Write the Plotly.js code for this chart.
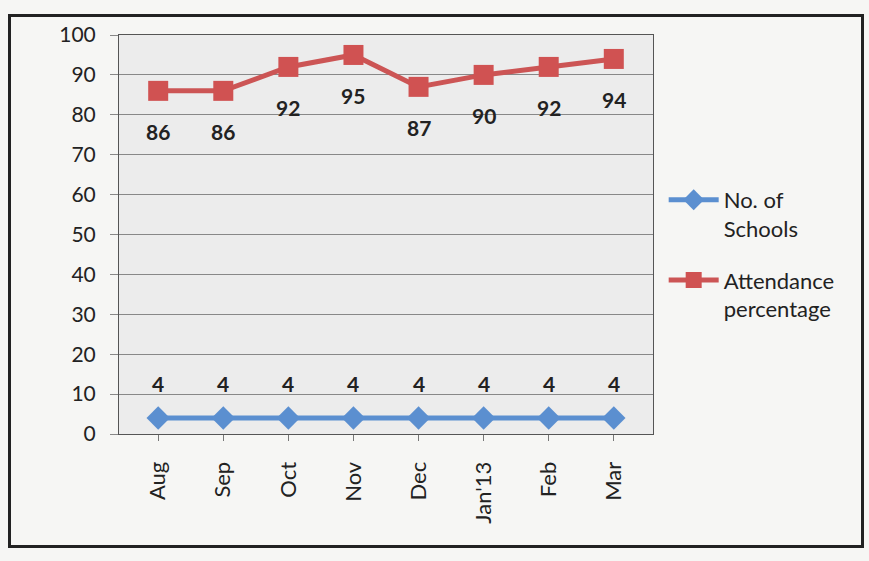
<!DOCTYPE html>
<html>
<head>
<meta charset="utf-8">
<script src="https://cdn.plot.ly/plotly-3.0.1.min.js"></script>
<style>
html,body{margin:0;padding:0;background:#f6f6f4;}
#wrap{position:relative;width:869px;height:561px;}
#chart{width:869px;height:561px;}
#frame{position:absolute;left:8px;top:14px;width:850px;height:528px;border:3px solid #222;pointer-events:none;}
</style>
</head>
<body>
<div id="wrap"><div id="chart"></div><div id="frame"></div></div>
<script>
const months = ["Aug","Sep","Oct","Nov","Dec","Jan'13","Feb","Mar"];
const schools = [4,4,4,4,4,4,4,4];
const attendance = [86,86,92,95,87,90,92,94];
const yTicks = [0,10,20,30,40,50,60,70,80,90,100];
const seriesNames = ["No. of<br>Schools","Attendance<br>percentage"];

const font = "Lato, 'Open Sans', sans-serif";

const traces = [
  {x: months, y: schools, name: seriesNames[0], legendgroup: "a", type: "scatter", mode: "lines+markers",
   line: {color: "#5b8fd0", width: 5}, marker: {symbol: "diamond", size: 18, color: "#5b8fd0"}},
  {x: months, y: attendance, name: seriesNames[1], legendgroup: "b", type: "scatter", mode: "lines+markers",
   line: {color: "#cc5555", width: 5}, marker: {symbol: "square", size: 20, color: "#d05252"}}
];

const annotations = [];
months.forEach((m, i) => {
  annotations.push({x: m, y: schools[i], text: String(schools[i]), showarrow: false, yshift: 35,
    font: {family: font, size: 21, color: "#222", weight: "bold"}});
  annotations.push({x: m, y: attendance[i], text: String(attendance[i]), showarrow: false, yshift: -41,
    font: {family: font, size: 21, color: "#222", weight: "bold"}});
});

const layout = {
  width: 869, height: 561,
  margin: {l: 119, r: 216, t: 35, b: 127},
  paper_bgcolor: "rgba(0,0,0,0)",
  plot_bgcolor: "#ececec",
  showlegend: true,
  legend: {x: 1.02, y: 0.45, xanchor: "left", yanchor: "middle", itemwidth: 50, valign: "top",
    traceorder: "grouped", tracegroupgap: 20,
    font: {family: font, size: 22, color: "#222"}, bgcolor: "rgba(0,0,0,0)"},
  xaxis: {type: "category", tickangle: -90, tickfont: {family: font, size: 22, color: "#222"},
    showgrid: false, showline: true, linecolor: "#555", linewidth: 1, ticks: "outside", ticklen: 6,
    tickcolor: "#777", mirror: true, ticklabelstandoff: 12},
  yaxis: {range: [0, 100], tickvals: yTicks, tickfont: {family: font, size: 21, color: "#222"},
    showgrid: true, gridcolor: "#888", gridwidth: 1, showline: true, linecolor: "#555", mirror: true,
    ticks: "outside", ticklen: 8, tickcolor: "#888", zeroline: false, ticklabelstandoff: 10},
  annotations: annotations
};

Plotly.newPlot("chart", traces, layout, {displayModeBar: false, staticPlot: true});
</script>
</body>
</html>
